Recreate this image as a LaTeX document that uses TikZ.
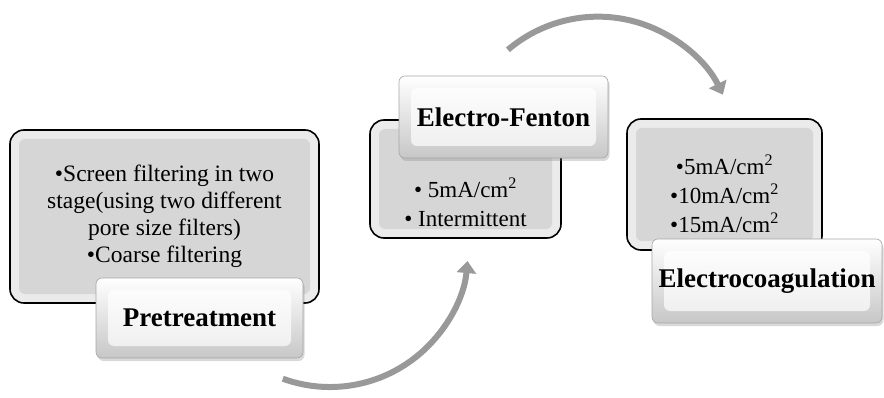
\documentclass[tikz,border=0pt]{standalone}
\usepackage{fontspec}
\setmainfont{Liberation Serif}
\usetikzlibrary{shadows,arrows.meta}

\begin{document}
\begin{tikzpicture}[x=1pt,y=1pt,
    databox/.style={draw=black, line width=1.6pt, rounded corners=14pt, fill=black!8, inner sep=0pt,
      path picture={\fill[black!16, rounded corners=6pt] ([shift={(9pt,9pt)}]path picture bounding box.south west) rectangle ([shift={(-9pt,-9pt)}]path picture bounding box.north east);}},
    titlebox/.style={draw=black!35, line width=0.6pt, rounded corners=6pt, top color=white, bottom color=black!22, inner sep=0pt,
      drop shadow={opacity=0.3, shadow xshift=1.5pt, shadow yshift=-3pt},
      path picture={\shade[top color=white, bottom color=black!7] ([shift={(12pt,12pt)}]path picture bounding box.south west) rectangle ([shift={(-12pt,-12pt)}]path picture bounding box.north east);},
      font=\bfseries\fontsize{27}{30}\selectfont},
    itemtext/.style={align=center, font=\fontsize{23.5}{28}\selectfont},
    flow/.style={line width=6pt, draw=black!40, -{Triangle[width=19pt,length=12pt]}}
]
    \useasboundingbox (0,0) rectangle (884,397);

    % Pretreatment
    \node[databox, minimum width=309, minimum height=173] (pre) at (164.5,180.5) {};
    \node[itemtext, font=\fontsize{23.5}{27}\selectfont] (pretext) at (164.5,181) {•Screen filtering in two\\stage(using two different\\pore size filters)\\•Coarse filtering};
    \node[titlebox, minimum width=207, minimum height=80] (pretitle) at (199.5,79) {Pretreatment};

    % Electro-Fenton
    \node[databox, minimum width=191, minimum height=118] (ef) at (465.5,218) {};
    \node[itemtext, font=\fontsize{23}{29}\selectfont] (eftext) at (465.5,195) {• 5mA/cm\textsuperscript{2}\\• Intermittent};
    \node[titlebox, minimum width=209, minimum height=82] (eftitle) at (503.5,280) {Electro-Fenton};

    % Electrocoagulation
    \node[databox, minimum width=195, minimum height=131] (ec) at (724.5,212.5) {};
    \node[itemtext, font=\fontsize{23}{29}\selectfont] (ectext) at (724.5,203) {•5mA/cm\textsuperscript{2}\\•10mA/cm\textsuperscript{2}\\•15mA/cm\textsuperscript{2}};
    \node[titlebox, minimum width=230, minimum height=84] (ectitle) at (767,116) {Electrocoagulation};

    % Arrows
    \coordinate (flowa) at (282.8,18.3);
    \coordinate (flowb) at (507.9,347.2);
    \draw[flow] (flowa) arc[start angle=250, end angle=355, radius=138];
    \draw[flow] (flowb) arc[start angle=130.4, end angle=26, radius=139];
\end{tikzpicture}
\end{document}
